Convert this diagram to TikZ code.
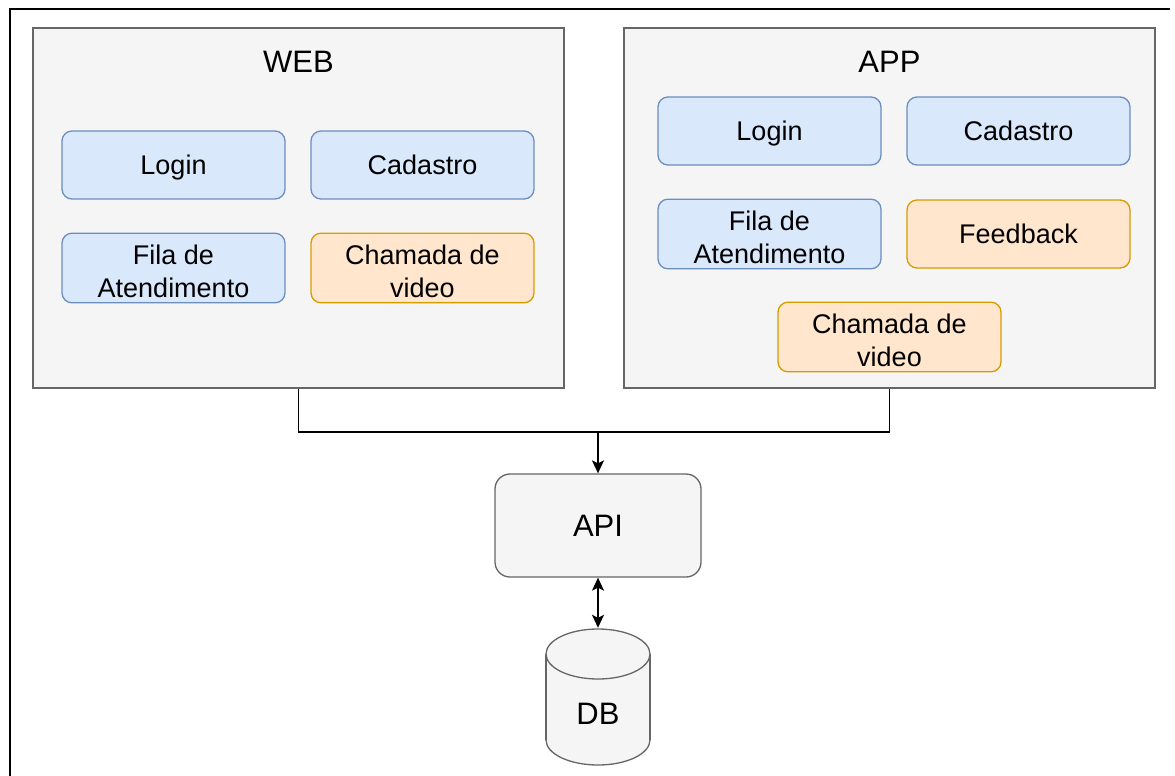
\documentclass[tikz,border=0pt]{standalone}
\usepackage{fontspec}
\setmainfont{Liberation Sans}
\usetikzlibrary{arrows.meta}
\definecolor{contfill}{HTML}{F5F5F5}
\definecolor{contline}{HTML}{666666}
\definecolor{bluefill}{HTML}{DAE8FC}
\definecolor{blueline}{HTML}{6C8EBF}
\definecolor{orangefill}{HTML}{FFE6CC}
\definecolor{orangeline}{HTML}{D79B00}
\newcommand{\bxstrut}{\rule[-0.212em]{0pt}{1.117em}}
\newcommand{\topstrut}{\rule[-0.212em]{0pt}{\dimexpr1.117em+7pt\relax}}
\begin{document}
\begin{tikzpicture}[x=1pt,y=-1pt,
  container/.style={draw=contline,fill=contfill,line width=1.6pt,minimum width=531pt,minimum height=360pt,inner sep=0pt},
  title/.style={font=\fontsize{31}{37}\selectfont,inner sep=0pt,execute at begin node=\bxstrut},
  boxtxt/.style={font=\fontsize{27}{32.5}\selectfont,align=center,inner sep=0pt,minimum width=223pt,minimum height=68pt,rounded corners=10pt,line width=1.3pt,execute at end node=\bxstrut},
  oneline/.style={execute at begin node=\bxstrut},
  bluebox/.style={boxtxt,draw=blueline,fill=bluefill},
  orangebox/.style={boxtxt,draw=orangeline,fill=orangefill},
  apibox/.style={draw=contline,fill=contfill,line width=1.3pt,rounded corners=15pt,minimum width=206pt,minimum height=103pt,inner sep=0pt,font=\fontsize{31}{37}\selectfont,execute at begin node=\bxstrut},
  conn/.style={draw=black,line width=1.6pt},
  tip/.style={-{Stealth[length=13pt,width=12pt,inset=3pt]}},
  dtip/.style={{Stealth[length=13pt,width=12pt,inset=3pt]}-{Stealth[length=13pt,width=12pt,inset=3pt]}},
  frame/.style={draw=black,line width=1.4pt}
]
\useasboundingbox (0,0) rectangle (1175,776);
\fill[white] (0,0) rectangle (1175,776);
\coordinate (fbl) at (10,776);
\coordinate (ftl) at (10,9);
\coordinate (ftr) at (1170,9);
\draw[frame] (fbl) -- (ftl) -- (ftr);

% containers
\node[container] (web) at (298.5,208) {};
\node[container] (app) at (889.5,208) {};
\node[title] (webt) at (298.5,62) {WEB};
\node[title] (appt) at (889.5,62) {APP};

% WEB boxes
\node[bluebox,oneline] (wlogin) at (173.5,165) {Login};
\node[bluebox,oneline] (wcad) at (422.5,165) {Cadastro};
\node[bluebox] (wfila) at (173.5,268) {\topstrut Fila de\\Atendimento};
\node[orangebox] (wcham) at (422.5,268) {\topstrut Chamada de\\video};

% APP boxes
\node[bluebox,oneline] (alogin) at (769.5,131) {Login};
\node[bluebox,oneline] (acad) at (1018.5,131) {Cadastro};
\node[bluebox] (afila) at (769.5,234) {\topstrut Fila de\\Atendimento};
\node[orangebox,oneline] (afeed) at (1018.5,234) {Feedback};
\node[orangebox] (acham) at (889.5,337) {\topstrut Chamada de\\video};

% API
\node[apibox] (api) at (598,525.5) {API};

% DB
\node[minimum width=104pt,minimum height=138pt,inner sep=0pt] (db) at (598,697) {};
\fill[contfill] (546,654) rectangle (650,740);
\fill[contfill] (598,740) ellipse[x radius=52,y radius=25];
\begin{scope}
  \clip (530,740) rectangle (670,776);
  \draw[contline,line width=1.3pt] (598,740) ellipse[x radius=52,y radius=25];
\end{scope}
\draw[contline,line width=1.3pt] (546,654) -- (546,740);
\draw[contline,line width=1.3pt] (650,654) -- (650,740);
\draw[contline,line width=1.3pt,fill=contfill] (598,654) ellipse[x radius=52,y radius=25];
\node[font=\fontsize{31}{37}\selectfont,inner sep=0pt,execute at begin node=\bxstrut] (dbt) at (598,714) {DB};

% connectors
\coordinate (j) at (598,432);
\draw[conn] (web.south) |- (j) -| (app.south);
\draw[conn,tip] (j) -- (api.north);
\draw[conn,dtip] (api.south) -- (db.north);
\end{tikzpicture}
\end{document}
